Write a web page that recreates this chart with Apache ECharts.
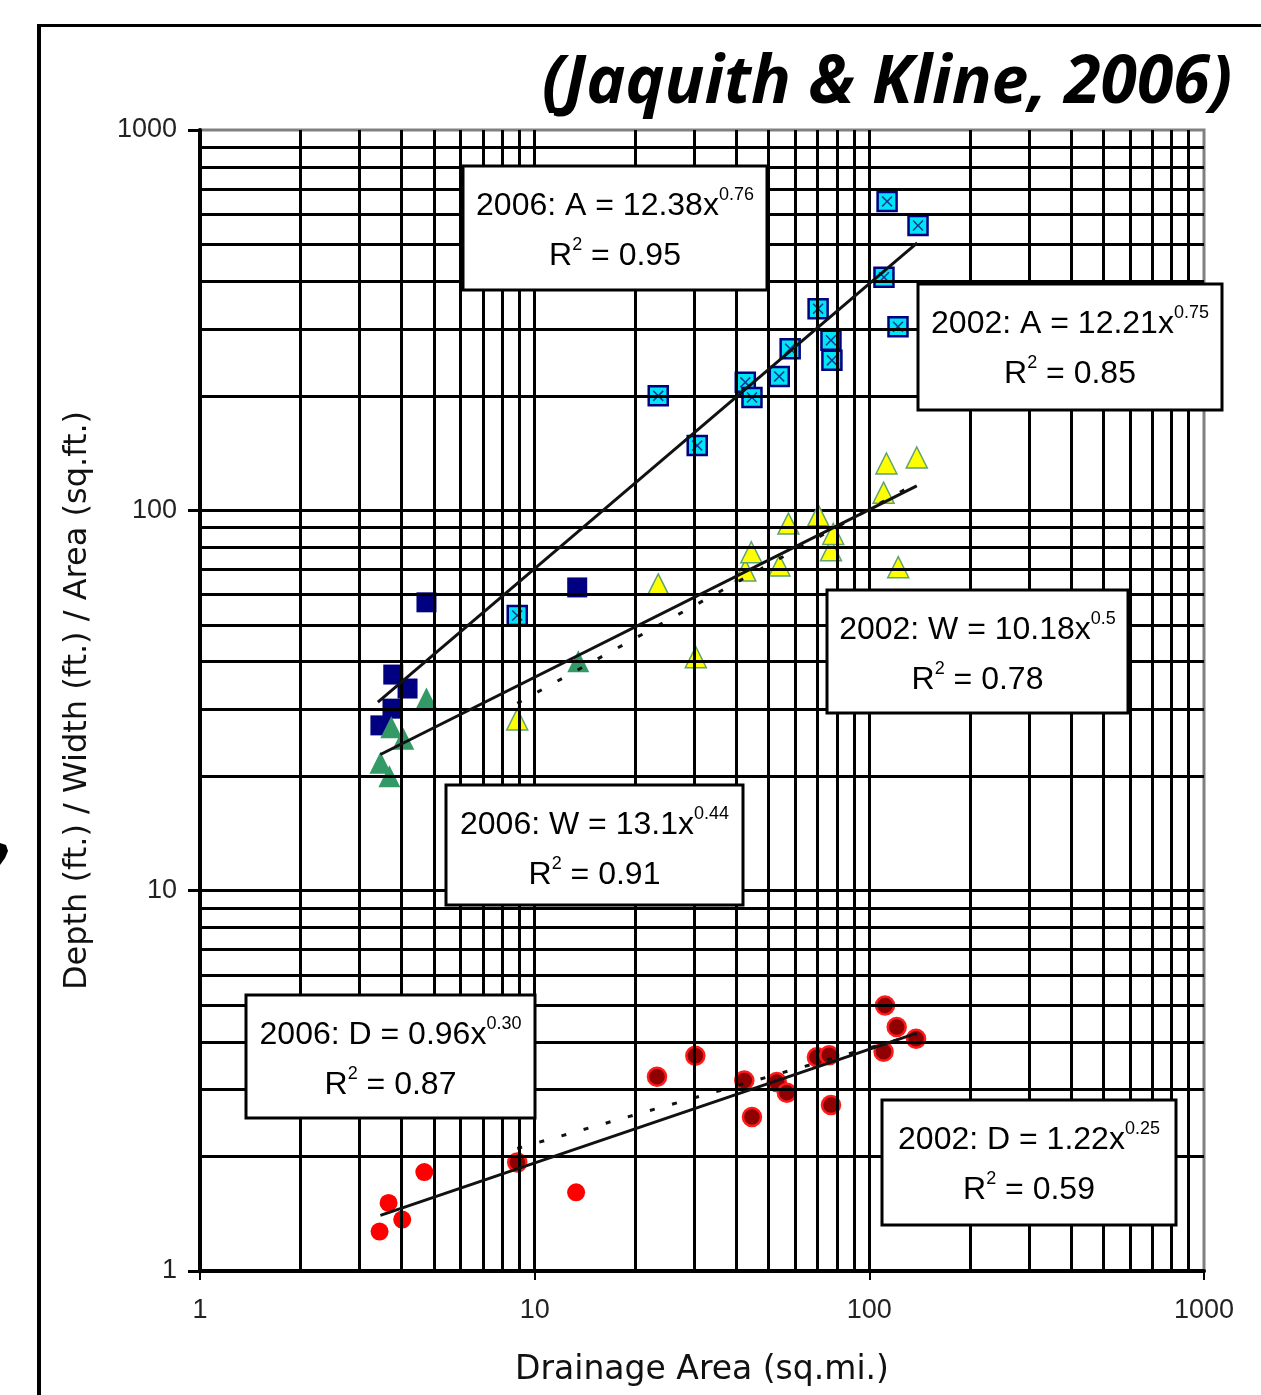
<!DOCTYPE html>
<html><head><meta charset="utf-8">
<script src="https://cdn.jsdelivr.net/npm/echarts@6.0.0/dist/echarts.min.js"></script>
<style>html,body{margin:0;padding:0;background:#fff}#c{width:1261px;height:1395px}</style>
</head><body><div id="c"></div>
<script>
// ---- data ----
const xTickValues = [1, 10, 100, 1000];
const yTickValues = [1, 10, 100, 1000];
const xMinorGrid = [2,3,4,5,6,7,8,9,20,30,40,50,60,70,80,90,200,300,400,500,600,700,800,900];
const yMinorGrid = [2,3,4,5,6,7,8,9,20,30,40,50,60,70,80,90,200,300,400,500,600,700,800,900];

const area2006 = [[3.46,27.2],[3.76,30.1],[3.78,37.0],[4.17,34.0],[4.75,57.3],[13.4,62.7]];
const area2002 = [[8.87,52.9],[23.4,200],[30.6,148],[42.6,217],[44.6,198],[53.8,225],[58.0,266],[70.3,339],[76.8,280],[77.3,248],[110.6,410],[113,649],[121.8,304],[139.8,561]];
const width2006 = [[3.46,21.7],[3.68,20.0],[3.73,26.9],[4.05,25.1],[4.75,32.0],[13.5,40.1]];
const width2002 = [[8.87,28.2],[23.4,63.9],[30.3,41.1],[42.6,69.5],[44.4,77.6],[53.9,71.6],[57.3,92.3],[70.4,97.0],[76.8,78.5],[78.0,86.7],[110.3,111.3],[112.5,132.8],[122,70.9],[138.6,137.7]];
const depth2006 = [[3.44,1.27],[3.66,1.51],[4.02,1.365],[4.68,1.82],[13.3,1.61]];
const depth2002 = [[8.87,1.93],[23.2,3.24],[30.2,3.68],[42.3,3.17],[44.6,2.54],[52.9,3.14],[56.7,2.94],[69.7,3.65],[75.9,3.69],[76.8,2.73],[110.3,3.77],[111.4,4.99],[120.7,4.38],[137.9,4.08]];

// trend line end points
const trendA2006 = [[3.4,31.3],[139,505]];
const trendW2006 = [[3.46,22.8],[138.6,116]];
const trendW2002 = [[8.87,31.1],[138.6,118]];
const trendD2006 = [[3.46,1.40],[138.6,4.22]];
const trendD2002 = [[8.87,2.10],[138.6,4.19]];

const eqMain = ['2006: A = 12.38x','2002: A = 12.21x','2002: W = 10.18x','2006: W = 13.1x','2006: D = 0.96x','2002: D = 1.22x'];
const eqExp  = ['0.76','0.75','0.5','0.44','0.30','0.25'];
const eqR2   = ['0.95','0.85','0.78','0.91','0.87','0.59'];
const titleText = '(Jaquith & Kline, 2006)';
const xName = 'Drainage Area (sq.mi.)';
const yName = 'Depth (ft.) / Width (ft.) / Area (sq.ft.)';

// ---- chart ----
const FONT = '"Liberation Sans", Arial, sans-serif';
const NAMEFONT = '"DejaVu Sans", sans-serif';
const chart = echarts.init(document.getElementById('c'), null, {renderer:'canvas'});

function eqBox(i, x, y, w, h) {
  const rich = {
    m: {fontSize: 32, fontFamily: FONT, color: '#111', lineHeight: 40},
    s: {fontSize: 18, fontFamily: FONT, color: '#111', lineHeight: 18, verticalAlign: 'top'}
  };
  return {
    type: 'group', z: 100,
    children: [
      {type:'rect', z:100, shape:{x:x, y:y, width:w, height:h}, style:{fill:'#fff', stroke:'#000', lineWidth:3}},
      {type:'text', z:101, x:x+w/2, y:y+40, style:{text:'{m|'+eqMain[i]+'}{s|'+eqExp[i]+'}', align:'center', verticalAlign:'middle', rich:rich}},
      {type:'text', z:101, x:x+w/2, y:y+90, style:{text:'{m|R}{s|2}{m| = '+eqR2[i]+'}', align:'center', verticalAlign:'middle', rich:rich}}
    ]
  };
}

function scatter(name, data, sym, size, style, z) {
  style.opacity = 1;
  return {name:name, type:'scatter', data:data, symbol:sym, symbolSize:size, itemStyle:style, z:z||3, silent:true};
}
function trend(name, data, dashed) {
  return {name:name, type:'line', data:data, symbol:'none', silent:true, z: dashed?4:5,
    lineStyle:{color:'#111', width:3, type: dashed ? [5,18] : 'solid', opacity:1}};
}

const xPath = 'path://M0,1 L1,0 L5,4 L9,0 L10,1 L6,5 L10,9 L9,10 L5,6 L1,10 L0,9 L4,5 Z';
const plainNum = v => String(Math.round(v));

const option = {
  backgroundColor: '#fff',
  animation: false,
  grid: {left:200, right:57, top:130, bottom:124, show:true, borderColor:'#808080', borderWidth:3, backgroundColor:'#fff', containLabel:false, outerBoundsMode:'none'},
  xAxis: {
    type:'log', logBase:10, min:1, max:1000,
    name: xName, nameLocation:'middle', nameGap: 99,
    nameTextStyle:{fontSize:33, fontFamily:NAMEFONT, color:'#111', verticalAlign:'middle'},
    axisLine:{show:true, lineStyle:{color:'#000', width:4}},
    axisTick:{show:true, length:9, lineStyle:{color:'#000', width:2}},
    axisLabel:{fontSize:27, fontFamily:FONT, color:'#222', margin:26, formatter:plainNum},
    splitLine:{show:true, showMinLine:false, showMaxLine:false, lineStyle:{color:'#000', width:3}},
    minorTick:{show:false}, minorSplitLine:{show:false}
  },
  yAxis: {
    type:'log', logBase:10, min:1, max:1000,
    name: yName, nameLocation:'middle', nameGap: 122,
    nameTextStyle:{fontSize:32, fontFamily:NAMEFONT, color:'#111', verticalAlign:'middle'},
    axisLine:{show:true, lineStyle:{color:'#000', width:4}},
    axisTick:{show:true, length:12, lineStyle:{color:'#000', width:3}},
    axisLabel:{fontSize:27, fontFamily:FONT, color:'#222', margin:23, padding:[0,0,10,0], formatter:plainNum},
    splitLine:{show:true, showMinLine:false, showMaxLine:false, lineStyle:{color:'#000', width:3}},
    minorTick:{show:false}, minorSplitLine:{show:false}
  },
  series: [
    {name:'grid', type:'line', data:[], z:1, silent:true, symbol:'none',
     markLine:{silent:true, symbol:'none', animation:false, label:{show:false},
       lineStyle:{color:'#000', width:3, type:'solid', opacity:1},
       emphasis:{disabled:true},
       data: xMinorGrid.map(v=>({xAxis:v})).concat(yMinorGrid.map(v=>({yAxis:v})))}},
    scatter('Area 2006', area2006, 'rect', 20, {color:'#000080'}),
    scatter('Area 2002', area2002, 'rect', 19, {color:'#00e4f4', borderColor:'#000080', borderWidth:2.5}),
    scatter('Area 2002 x', area2002, xPath, 11, {color:'#0a3a9a'}, 3.5),
    scatter('Width 2006', width2006, 'triangle', 22, {color:'#339966'}),
    scatter('Width 2002', width2002, 'triangle', 21, {color:'#ffff00', borderColor:'#5fa36f', borderWidth:1.5}),
    scatter('Depth 2006', depth2006, 'circle', 18, {color:'#ff0000'}),
    scatter('Depth 2002', depth2002, 'circle', 18, {color:'#8f0000', borderColor:'#ff1a1a', borderWidth:2.5}),
    trend('A 2006 trend', trendA2006, false),
    trend('W 2002 trend', trendW2002, true),
    trend('W 2006 trend', trendW2006, false),
    trend('D 2002 trend', trendD2002, true),
    trend('D 2006 trend', trendD2006, false)
  ],
  graphic: {elements: [
    {type:'line', z:50, shape:{x1:39, y1:25, x2:39, y2:1395}, style:{stroke:'#000', lineWidth:4}},
    {type:'line', z:50, shape:{x1:37, y1:25.5, x2:1261, y2:25.5}, style:{stroke:'#000', lineWidth:3}},
    {type:'polygon', z:50, shape:{points:[[0,843],[6,845],[8,851],[5,858],[0,865]]}, style:{fill:'#000'}},
    {type:'text', z:60, x:1232, y:84, style:{text:titleText, align:'right', verticalAlign:'middle',
      fontFamily:'"Open Sans", Lato, sans-serif', fontWeight:'bold', fontStyle:'italic', fontSize:66, fill:'#000'}},
    eqBox(0, 463, 166, 304, 124),
    eqBox(1, 918, 284, 304, 126),
    eqBox(2, 827, 590, 301, 123),
    eqBox(3, 446, 785, 297, 120),
    eqBox(4, 246, 995, 289, 123),
    eqBox(5, 882, 1100, 294, 125)
  ]}
};
chart.setOption(option);
</script>
</body></html>
